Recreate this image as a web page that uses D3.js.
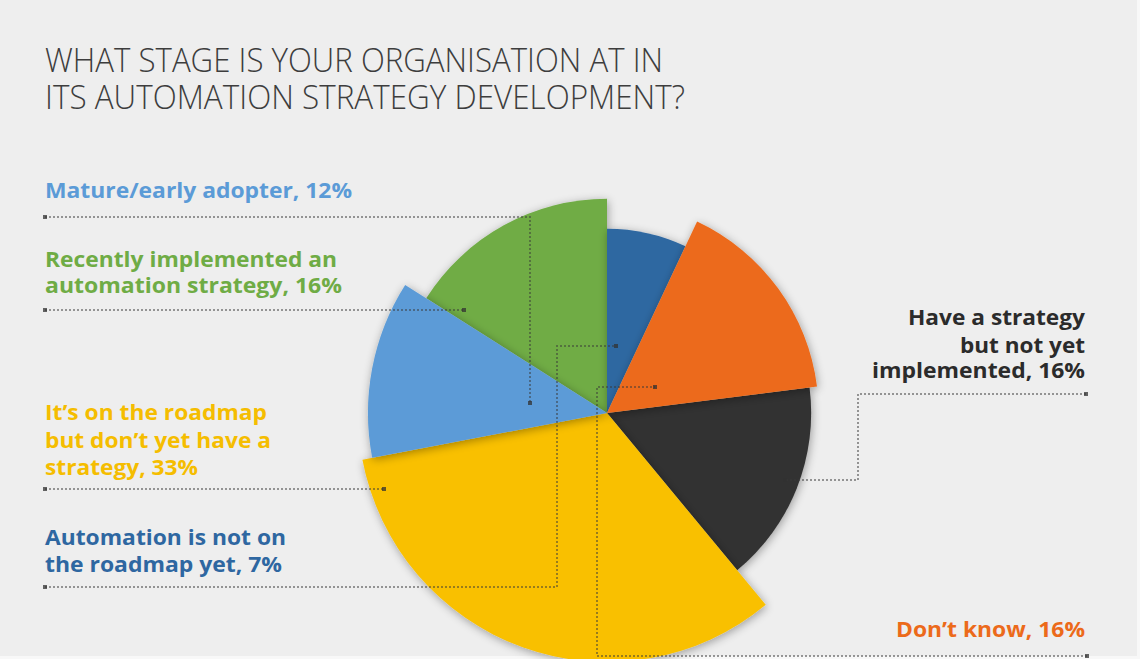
<!DOCTYPE html>
<html>
<head>
<meta charset="utf-8">
<script src="https://cdn.jsdelivr.net/npm/d3@7/dist/d3.min.js"></script>
<style>
  html, body { margin: 0; padding: 0; background: #eeeeee; overflow: hidden; }
  svg { display: block; }
</style>
</head>
<body>
<svg id="chart" width="1140" height="659"></svg>
<script>
// ---------- DATA ----------
const categories = [
  "Automation is not on the roadmap yet",
  "Don’t know",
  "Have a strategy but not yet implemented",
  "It’s on the roadmap but don’t yet have a strategy",
  "Mature/early adopter",
  "Recently implemented an automation strategy"
];
const shares = [7, 16, 16, 33, 12, 16];          // % (slice angle)
const depth  = [74, 85, 82, 100, 96, 86];         // relative slice length (radius)
const labelLines = [
  ["Automation is not on", "the roadmap yet, 7%"],
  ["Don’t know, 16%"],
  ["Have a strategy", "but not yet", "implemented, 16%"],
  ["It’s on the roadmap", "but don’t yet have a", "strategy, 33%"],
  ["Mature/early adopter, 12%"],
  ["Recently implemented an", "automation strategy, 16%"]
];
const titleLines = [
  "WHAT STAGE IS YOUR ORGANISATION AT IN",
  "ITS AUTOMATION STRATEGY DEVELOPMENT?"
];

// ---------- STYLE / LAYOUT ----------
const colors = ["#2e67a1", "#ec6a1a", "#333333", "#f9c000", "#5b9bd7", "#6fac45"];
const textColors = ["#2e67a1", "#ec6a1a", "#2b2b2b", "#f5bd00", "#5b9bd7", "#6fac45"];
const cx = 607, cy = 413;
const drawOrder = [5, 0, 2, 3, 4, 1];

const layout = [
  { x: 45,   anchor: "start", base: [545, 572],      w: [241, 237],      leader: [[45,587],[557,587],[557,346],[616,346]] },
  { x: 1085, anchor: "end",   base: [637],           w: [189],           leader: [[1087,656],[597,656],[597,387],[655,387]] },
  { x: 1085, anchor: "end",   base: [325, 353, 378], w: [177, 125, 213], leader: [[1086,394],[858,394],[858,480],[785,480]] },
  { x: 45,   anchor: "start", base: [420, 448, 475], w: [222, 226, 153], leader: [[45,489],[384,489]] },
  { x: 45,   anchor: "start", base: [198],           w: [307],           leader: [[45,217],[530,217],[530,403]] },
  { x: 45,   anchor: "start", base: [267, 293],      w: [292, 297],      leader: [[45,310],[464,310]] }
];

const svg = d3.select("#chart");

// background
svg.append("rect").attr("width", 1140).attr("height", 659).attr("fill", "#eeeeee");
svg.append("rect").attr("x", 0).attr("y", 656).attr("width", 1140).attr("height", 3).attr("fill", "#f8f8f8");
svg.append("rect").attr("x", 1137).attr("y", 0).attr("width", 3).attr("height", 659).attr("fill", "#f8f8f8");

// shadow filter
const defs = svg.append("defs");
const f = defs.append("filter").attr("id", "sh")
  .attr("x", "-30%").attr("y", "-30%").attr("width", "160%").attr("height", "160%");
f.append("feGaussianBlur").attr("in", "SourceAlpha").attr("stdDeviation", 5).attr("result", "b");
f.append("feOffset").attr("in", "b").attr("dx", 1).attr("dy", 2).attr("result", "o");
f.append("feComponentTransfer").attr("in", "o").attr("result", "s")
  .append("feFuncA").attr("type", "linear").attr("slope", 0.35);
const m = f.append("feMerge");
m.append("feMergeNode").attr("in", "s");
m.append("feMergeNode").attr("in", "SourceGraphic");

// title
svg.append("g").selectAll("text").data(titleLines).join("text")
  .attr("x", 45)
  .attr("y", (d, i) => 72 + i * 36.6)
  .attr("textLength", (d, i) => i === 0 ? 618 : 640)
  .attr("lengthAdjust", "spacingAndGlyphs")
  .attr("font-family", "'Open Sans', sans-serif")
  .attr("font-weight", 300)
  .attr("font-size", 32.5)
  .attr("fill", "#3d3d3d")
  .text(d => d);

// pie
const pie = d3.pie().sort(null).value(d => d)(shares);
const rScale = d3.scaleLinear().domain([0, 100]).range([0, 249]);
const arc = d3.arc().innerRadius(0).outerRadius(d => rScale(depth[d.index]));

const gPie = svg.append("g").attr("transform", `translate(${cx},${cy})`);
gPie.selectAll("path").data(drawOrder.map(i => pie[i])).join("path")
  .attr("d", arc)
  .attr("fill", d => colors[d.index])
  .attr("filter", "url(#sh)");

// leader lines
const gLead = svg.append("g");
const line = d3.line();
layout.forEach((L, i) => {
  gLead.append("path")
    .attr("d", line(L.leader))
    .attr("fill", "none")
    .attr("stroke", "rgba(55,55,55,0.5)")
    .attr("stroke-width", 2)
    .attr("stroke-dasharray", "2,2");
  [L.leader[0], L.leader[L.leader.length - 1]].forEach(p => {
    gLead.append("rect")
      .attr("x", p[0] - 2).attr("y", p[1] - 2)
      .attr("width", 4).attr("height", 4)
      .attr("fill", "rgba(50,50,50,0.75)");
  });
});

// labels
const gLab = svg.append("g");
labelLines.forEach((lines, i) => {
  const L = layout[i];
  lines.forEach((t, j) => {
    gLab.append("text")
      .attr("x", L.x)
      .attr("y", L.base[j])
      .attr("text-anchor", L.anchor)
      .attr("textLength", L.w[j])
      .attr("lengthAdjust", "spacingAndGlyphs")
      .attr("font-family", "'Open Sans', sans-serif")
      .attr("font-weight", 700)
      .attr("font-size", 22)
      .attr("fill", textColors[i])
      .text(t);
  });
});
</script>
</body>
</html>
